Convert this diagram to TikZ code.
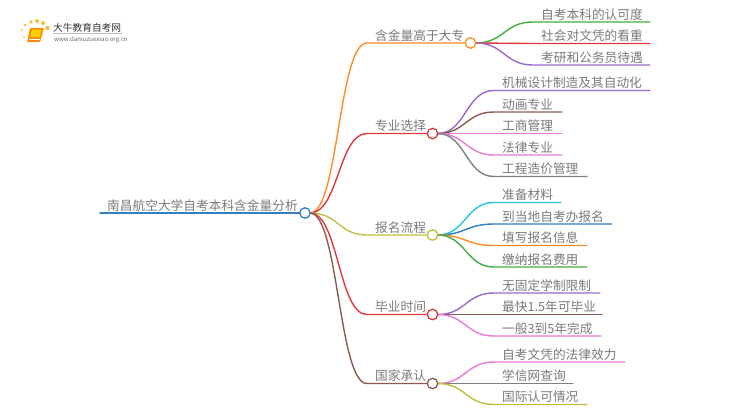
\documentclass[tikz,border=0pt]{standalone}
\usepackage{fontspec}
\setmainfont{Noto Sans CJK SC}
\usetikzlibrary{calc}
\definecolor{cOrange}{HTML}{FF8C26}
\definecolor{cRed}{HTML}{E0383E}
\definecolor{cOlive}{HTML}{C2BE3A}
\definecolor{cGreen}{HTML}{3FAF3F}
\definecolor{cPurple}{HTML}{9A68C8}
\definecolor{cBrown}{HTML}{8C5A4F}
\definecolor{cPink}{HTML}{E87BD0}
\definecolor{cGray}{HTML}{808080}
\definecolor{cCyan}{HTML}{26C6DA}
\definecolor{cBlue}{HTML}{2F7FC1}
\definecolor{txt}{HTML}{7A7A7A}
\tikzset{
  x=1pt,y=-1pt,
  hub/.style={circle,draw=#1,fill=white,line width=1.3pt,minimum size=10.5pt,inner sep=0pt},
  link/.style={line width=1.4pt,line cap=round},
  lbl/.style={anchor=base west,inner sep=0pt,text=txt,font=\fontsize{12.7pt}{14pt}\selectfont},
}
% #1 parent node, #2 colour, #3 line y, #4 text x, #5 end x, #6 text, #7 name
\newcommand{\branch}[7]{%
  \node[lbl] (#7) at (#4,#3-2.8) {#6};
  \coordinate (#7s) at (#4-8,#3);
  \coordinate (#7e) at (#5,#3);
  \coordinate (#7o) at ($(#1.center)+(5,0)$);
  \draw[link,draw=#2] (#1.center) -- (#7o) .. controls ($(#7o)!0.5!(#7o-|#7s)$) and ($(#7s)!0.5!(#7s-|#7o)$) .. (#7s) -- (#7e);
}
\begin{document}
\begin{tikzpicture}
\useasboundingbox (0,0) rectangle (750,410);
% logo
\foreach \a/\b/\r in {24/37/1,22/30/1.2,25/25/1.5,31/22/1.8,37/21/2,43/23/2,47.5/28/2.2}
  \fill[orange!70!yellow,opacity=.75] (\a,\b) circle[radius=\r];
\fill[orange!90!yellow,rounded corners=1pt] (30,28) -- (44,28) -- (40,42) -- (27,42) -- cycle;
\fill[yellow!70!orange,rounded corners=.5pt] (32,29.5) -- (41.5,29.5) -- (39.5,37) -- (30,37) -- cycle;
\draw[white,line width=.5pt] (29,39.5) -- (40,39.5);
\node[anchor=base west,inner sep=0pt,text=black!80,font=\fontsize{9.7pt}{10pt}\selectfont] (brand) at (53,31) {大牛教育自考网};
\node[anchor=base west,inner sep=0pt,text=black!60,font=\fontsize{6.1pt}{7pt}\selectfont] (url) at (54,41) {www.daniuzuexiao.org.cn};
\draw[black!25,line width=.4pt] (53,33.5) -- (122,33.5);
% centres
\coordinate (root) at (305,213);
\coordinate (h1) at (470.5,43);
\coordinate (h2) at (432.5,133.5);
\coordinate (h3) at (432.5,235);
\coordinate (h4) at (432.5,314.5);
\coordinate (h5) at (432.5,383.5);
% root line
\coordinate (rootl) at (100,213);
\draw[link,draw=cBlue] (rootl) -- (root);
\node[lbl] (rootlabel) at (107,210.2) {南昌航空大学自考本科含金量分析};
% main branches
\branch{root}{cOrange}{43}{375}{470.5}{含金量高于大专}{m1}
\branch{root}{cRed}{133.5}{375}{432.5}{专业选择}{m2}
\branch{root}{cOlive}{235}{375}{432.5}{报名流程}{m3}
\branch{root}{cRed}{314.5}{375}{432.5}{毕业时间}{m4}
\branch{root}{cBrown}{383.5}{375}{432.5}{国家承认}{m5}
% leaves
\branch{h1}{cGreen}{22}{541}{650}{自考本科的认可度}{a1}
\branch{h1}{cRed}{43.5}{541}{650}{社会对文凭的看重}{a2}
\branch{h1}{cPurple}{65}{541}{650}{考研和公务员待遇}{a3}
\branch{h2}{cPurple}{90.5}{502}{650}{机械设计制造及其自动化}{b1}
\branch{h2}{cBrown}{112}{502}{562}{动画专业}{b2}
\branch{h2}{cPink}{133.5}{502}{562}{工商管理}{b3}
\branch{h2}{cPink}{155}{502}{562}{法律专业}{b4}
\branch{h2}{cGray}{176.5}{502}{587}{工程造价管理}{b5}
\branch{h3}{cCyan}{202.5}{502}{561}{准备材料}{c1}
\branch{h3}{cBlue}{224}{502}{612}{到当地自考办报名}{c2}
\branch{h3}{cOrange}{245.5}{502}{587}{填写报名信息}{c3}
\branch{h3}{cGreen}{267}{502}{587}{缴纳报名费用}{c4}
\branch{h4}{cPurple}{293}{502}{600}{无固定学制限制}{d1}
\branch{h4}{cBrown}{314.5}{502}{602}{最快1.5年可毕业}{d2}
\branch{h4}{cPink}{336}{502}{601}{一般3到5年完成}{d3}
\branch{h5}{cPink}{362}{502}{625}{自考文凭的法律效力}{e1}
\branch{h5}{cGray}{383.5}{502}{573}{学信网查询}{e2}
\branch{h5}{cOlive}{404.5}{502}{587}{国际认可情况}{e3}
% hub circles
\node[hub=cBlue] (rootc) at (root) {};
\node[hub=cOrange] (c1h) at (h1) {};
\node[hub=cRed] (c2h) at (h2) {};
\node[hub=cOlive] (c3h) at (h3) {};
\node[hub=cRed] (c4h) at (h4) {};
\node[hub=cBrown] (c5h) at (h5) {};
\end{tikzpicture}
\end{document}
